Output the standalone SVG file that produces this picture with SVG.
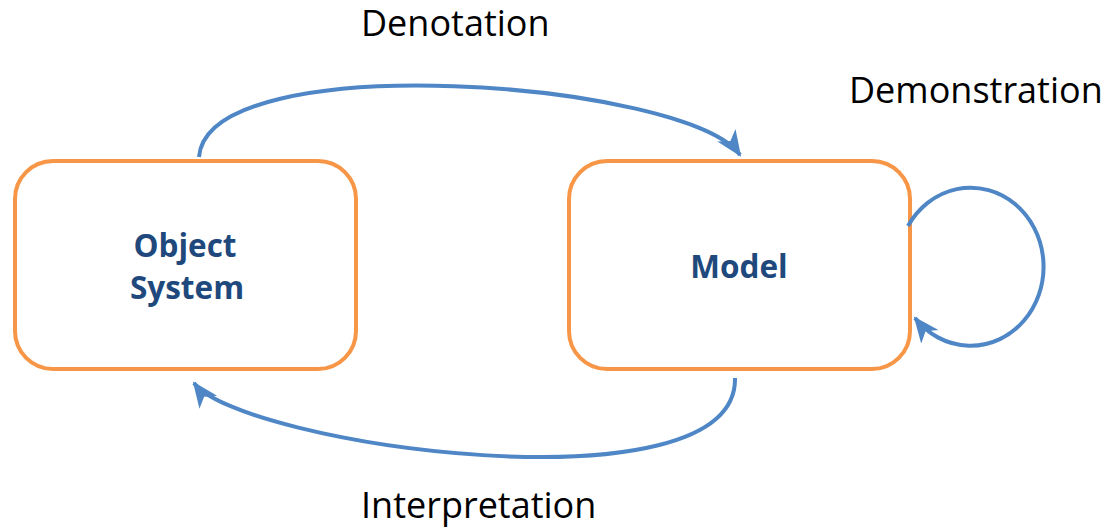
<svg xmlns="http://www.w3.org/2000/svg" width="1107" height="528" viewBox="0 0 1107 528">
  <style>
    .box { fill: #ffffff; stroke: #F79646; stroke-width: 4; }
    .node-label { font-family: "Open Sans", "Liberation Sans", sans-serif; font-weight: 700; font-size: 31.5px; fill: #1F497D; text-anchor: middle; }
    .edge { fill: none; stroke: #4F86C6; stroke-width: 4; marker-end: url(#arrow); }
    .edge-label { font-family: "Open Sans", "Liberation Sans", sans-serif; font-size: 36px; fill: #000000; }
  </style>
  <defs>
    <!-- barbed arrowhead shared by all connectors -->
    <marker id="arrow" markerUnits="userSpaceOnUse" markerWidth="28" markerHeight="24" refX="24" refY="11" orient="auto" viewBox="0 0 28 24">
      <path d="M0,0 L26,11 L0,22 L7,11 z" fill="#4F86C6"/>
    </marker>
  </defs>
  <rect width="1107" height="528" fill="#ffffff"/>

  <g id="object-system">
    <rect class="box" x="15" y="161" width="341" height="208" rx="38" ry="38"/>
    <text class="node-label" x="185" y="257">Object</text>
    <text class="node-label" x="187" y="299">System</text>
  </g>

  <g id="model">
    <rect class="box" x="569" y="161" width="341" height="208" rx="38" ry="38"/>
    <text class="node-label" x="739" y="278">Model</text>
  </g>

  <g id="connectors">
    <path id="denotation" class="edge" d="M199,157 C208,44 690,82 740,155"/>
    <path id="interpretation" class="edge" d="M735,378 C738,515 240,445 194,383"/>
    <path id="demonstration" class="edge" d="M908,226 A73 79 0 1 1 915,318"/>
  </g>

  <g id="labels">
    <text class="edge-label" x="361" y="36">Denotation</text>
    <text class="edge-label" x="849" y="103">Demonstration</text>
    <text class="edge-label" x="361" y="518">Interpretation</text>
  </g>
</svg>
